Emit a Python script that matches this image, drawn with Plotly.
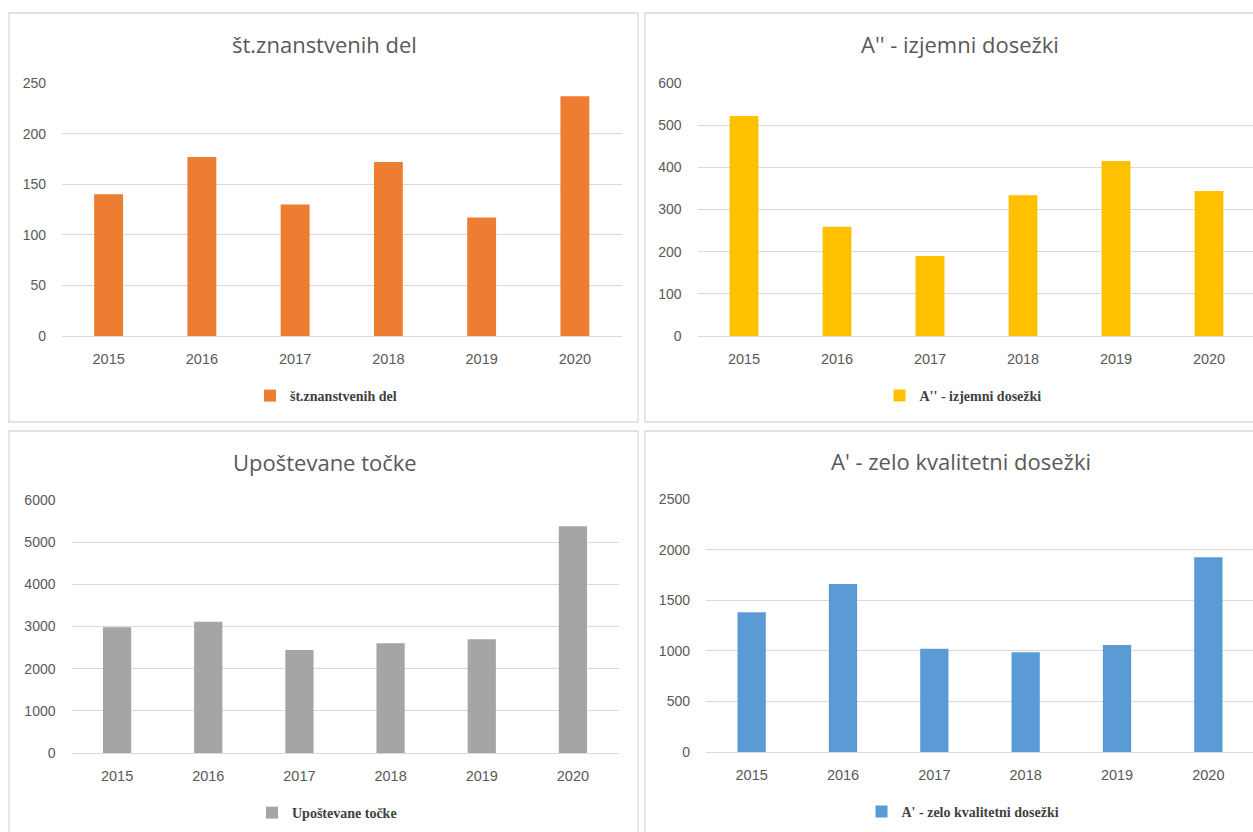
import plotly.graph_objects as go

W, H = 1253, 832

years = ["2015", "2016", "2017", "2018", "2019", "2020"]

dela_name = "št.znanstvenih del"
dela_values = [140, 177, 130, 172, 117, 237]

izjemni_name = "A'' - izjemni dosežki"
izjemni_values = [522, 259, 190, 334, 415, 344]

tocke_name = "Upoštevane točke"
tocke_values = [2980, 3110, 2440, 2600, 2700, 5380]

kvalitetni_name = "A' - zelo kvalitetni dosežki"
kvalitetni_values = [1380, 1660, 1020, 985, 1057, 1924]

y_ticks_1 = [0, 50, 100, 150, 200, 250]
y_ticks_2 = [0, 100, 200, 300, 400, 500, 600]
y_ticks_3 = [0, 1000, 2000, 3000, 4000, 5000, 6000]
y_ticks_4 = [0, 500, 1000, 1500, 2000, 2500]


def px(x):
    return x / W


def py(y):
    return 1 - y / H


panels = [
    dict(name=dela_name, vals=dela_values, color="#ED7D31", ticks=y_ticks_1,
         plot=(62, 83, 621.5, 336), box=(9, 13, 638, 422), ty=44, ly=396,
         tcx=325, lcx=326),
    dict(name=izjemni_name, vals=izjemni_values, color="#FFC000", ticks=y_ticks_2,
         plot=(697.5, 83, 1255.5, 336), box=(645, 13, 1262, 422), ty=44, ly=396,
         tcx=960, lcx=963),
    dict(name=tocke_name, vals=tocke_values, color="#A5A5A5", ticks=y_ticks_3,
         plot=(71.5, 500, 618.5, 753), box=(9, 431, 638, 840), ty=462, ly=813,
         tcx=325, lcx=327),
    dict(name=kvalitetni_name, vals=kvalitetni_values, color="#5B9BD5", ticks=y_ticks_4,
         plot=(706, 499, 1254, 752), box=(645, 431, 1262, 840), ty=461, ly=812,
         tcx=961, lcx=963),
]

fig = go.Figure()
shapes = []
annotations = []
layout = {}

for i, p in enumerate(panels, start=1):
    sfx = "" if i == 1 else str(i)
    x0, y0, x1, y1 = p["plot"]
    step = (x1 - x0) / 6
    x1c = min(x1, W)
    rng_end = -0.5 + (x1c - x0) / step
    bx0, by0, bx1, by1 = p["box"]
    shapes.append(dict(type="rect", xref="paper", yref="paper",
                       x0=px(bx0), x1=px(bx1), y0=py(by1), y1=py(by0),
                       line=dict(color="#D9D9D9", width=1.3), layer="below"))
    fig.add_trace(go.Bar(
        x=years, y=p["vals"], name=p["name"], marker_color=p["color"],
        marker_line_width=0, xaxis="x" + sfx, yaxis="y" + sfx,
        legend="legend" + sfx, width=0.31,
    ))
    layout["xaxis" + sfx] = dict(
        domain=[px(x0), px(x1c)], anchor="y" + sfx, type="category",
        range=[-0.5, rng_end], showgrid=False, showline=False, zeroline=False,
        ticks="", ticklabelstandoff=12,
        tickfont=dict(family="Liberation Sans", size=14.5, color="#595959"),
    )
    layout["yaxis" + sfx] = dict(
        domain=[py(y1), py(y0)], anchor="x" + sfx,
        range=[0, p["ticks"][-1]], tickvals=p["ticks"],
        showgrid=True, gridcolor="#D9D9D9", gridwidth=1,
        zeroline=True, zerolinecolor="#D9D9D9", zerolinewidth=1,
        showline=False, ticks="", ticklabelstandoff=15,
        tickfont=dict(family="Liberation Sans", size=14, color="#595959"),
    )
    annotations.append(dict(
        text=p["name"], xref="paper", yref="paper", x=px(p["tcx"]), y=py(p["ty"]),
        xanchor="center", yanchor="middle", showarrow=False,
        font=dict(family="Open Sans", size=22, color="#595959"),
    ))
    layout["legend" + sfx] = dict(
        x=px(p["lcx"]), y=py(p["ly"]), xanchor="center", yanchor="middle",
        orientation="h", bgcolor="rgba(0,0,0,0)",
        font=dict(family="Liberation Serif", size=14, color="#404040", weight="bold"),
        itemwidth=30,
    )

fig.update_layout(
    width=W, height=H,
    margin=dict(l=0, r=0, t=0, b=0, autoexpand=False),
    paper_bgcolor="white", plot_bgcolor="white",
    showlegend=True,
    shapes=shapes, annotations=annotations,
    **layout,
)

fig.write_html(
    "out.html",
    config={"displayModeBar": False},
    post_script=(
        "var de=document.documentElement,b=document.body;"
        "de.style.margin='0';de.style.overflow='hidden';"
        "b.style.margin='0';b.style.overflow='hidden';"
        "var gd=document.getElementsByClassName('plotly-graph-div')[0];"
        "if(gd){gd.style.position='fixed';gd.style.left='0px';gd.style.top='0px';}"
    ),
)
